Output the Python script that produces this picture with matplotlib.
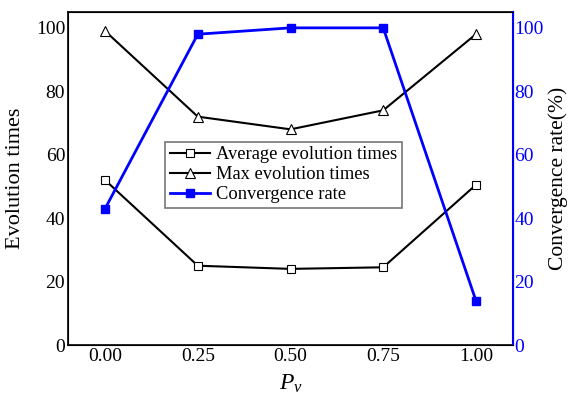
import matplotlib.pyplot as plt

plt.rcParams['font.family'] = ['Liberation Serif', 'DejaVu Serif']
plt.rcParams['mathtext.fontset'] = 'custom'
plt.rcParams['mathtext.it'] = 'Liberation Serif:italic'

pv = [0.00, 0.25, 0.50, 0.75, 1.00]
avg_times = [52, 25, 24, 24.5, 50.5]
max_times = [99, 72, 68, 74, 98]
conv_rate = [43, 98, 100, 100, 14]
xtick_labels = ['0.00', '0.25', '0.50', '0.75', '1.00']

fig = plt.figure(figsize=(5.69, 3.97), dpi=100)
ax = fig.add_axes([68/569, 52/397, 445/569, 333/397])
ax2 = ax.twinx()

l1, = ax.plot(pv, avg_times, color='black', lw=1.5, marker='s', ms=5.5,
              mfc='white', mec='black', mew=0.8, label='Average evolution times')
l2, = ax.plot(pv, max_times, color='black', lw=1.5, marker='^', ms=6.5,
              mfc='white', mec='black', mew=0.8, label='Max evolution times')
l3, = ax2.plot(pv, conv_rate, color='blue', lw=2, marker='s', ms=5.5,
               mfc='blue', mec='blue', label='Convergence rate')

ax.set_xlim(-0.1, 1.1)
ax.set_ylim(0, 105)
ax2.set_ylim(0, 105)
ax.set_xticks(pv)
ax.set_xticklabels(xtick_labels)
ax.set_yticks([0, 20, 40, 60, 80, 100])
ax2.set_yticks([0, 20, 40, 60, 80, 100])

ax.tick_params(length=0, labelsize=14, pad=2)
ax2.tick_params(length=0, labelsize=14, pad=1, colors='blue')
ax2.spines['right'].set_color('blue')
ax2.spines['right'].set_linewidth(1.5)
for s in ['left', 'bottom', 'top']:
    ax.spines[s].set_linewidth(1.2)

ax.set_ylabel('Evolution times', fontsize=16, labelpad=8)
ax2.set_ylabel('Convergence rate(%)', fontsize=15.5, labelpad=3)
ax.set_xlabel('$P_v$', fontsize=17, labelpad=6)

leg = ax.legend(handles=[l1, l2, l3], loc='upper left',
                bbox_to_anchor=(0.218, 0.61), fontsize=13.3, frameon=True,
                fancybox=False, edgecolor='#555555', borderpad=0.25,
                labelspacing=0.15, handlelength=2.2, handletextpad=0.3,
                borderaxespad=0)
leg.get_frame().set_linewidth(1.2)

fig.savefig('out.png', dpi=100)
